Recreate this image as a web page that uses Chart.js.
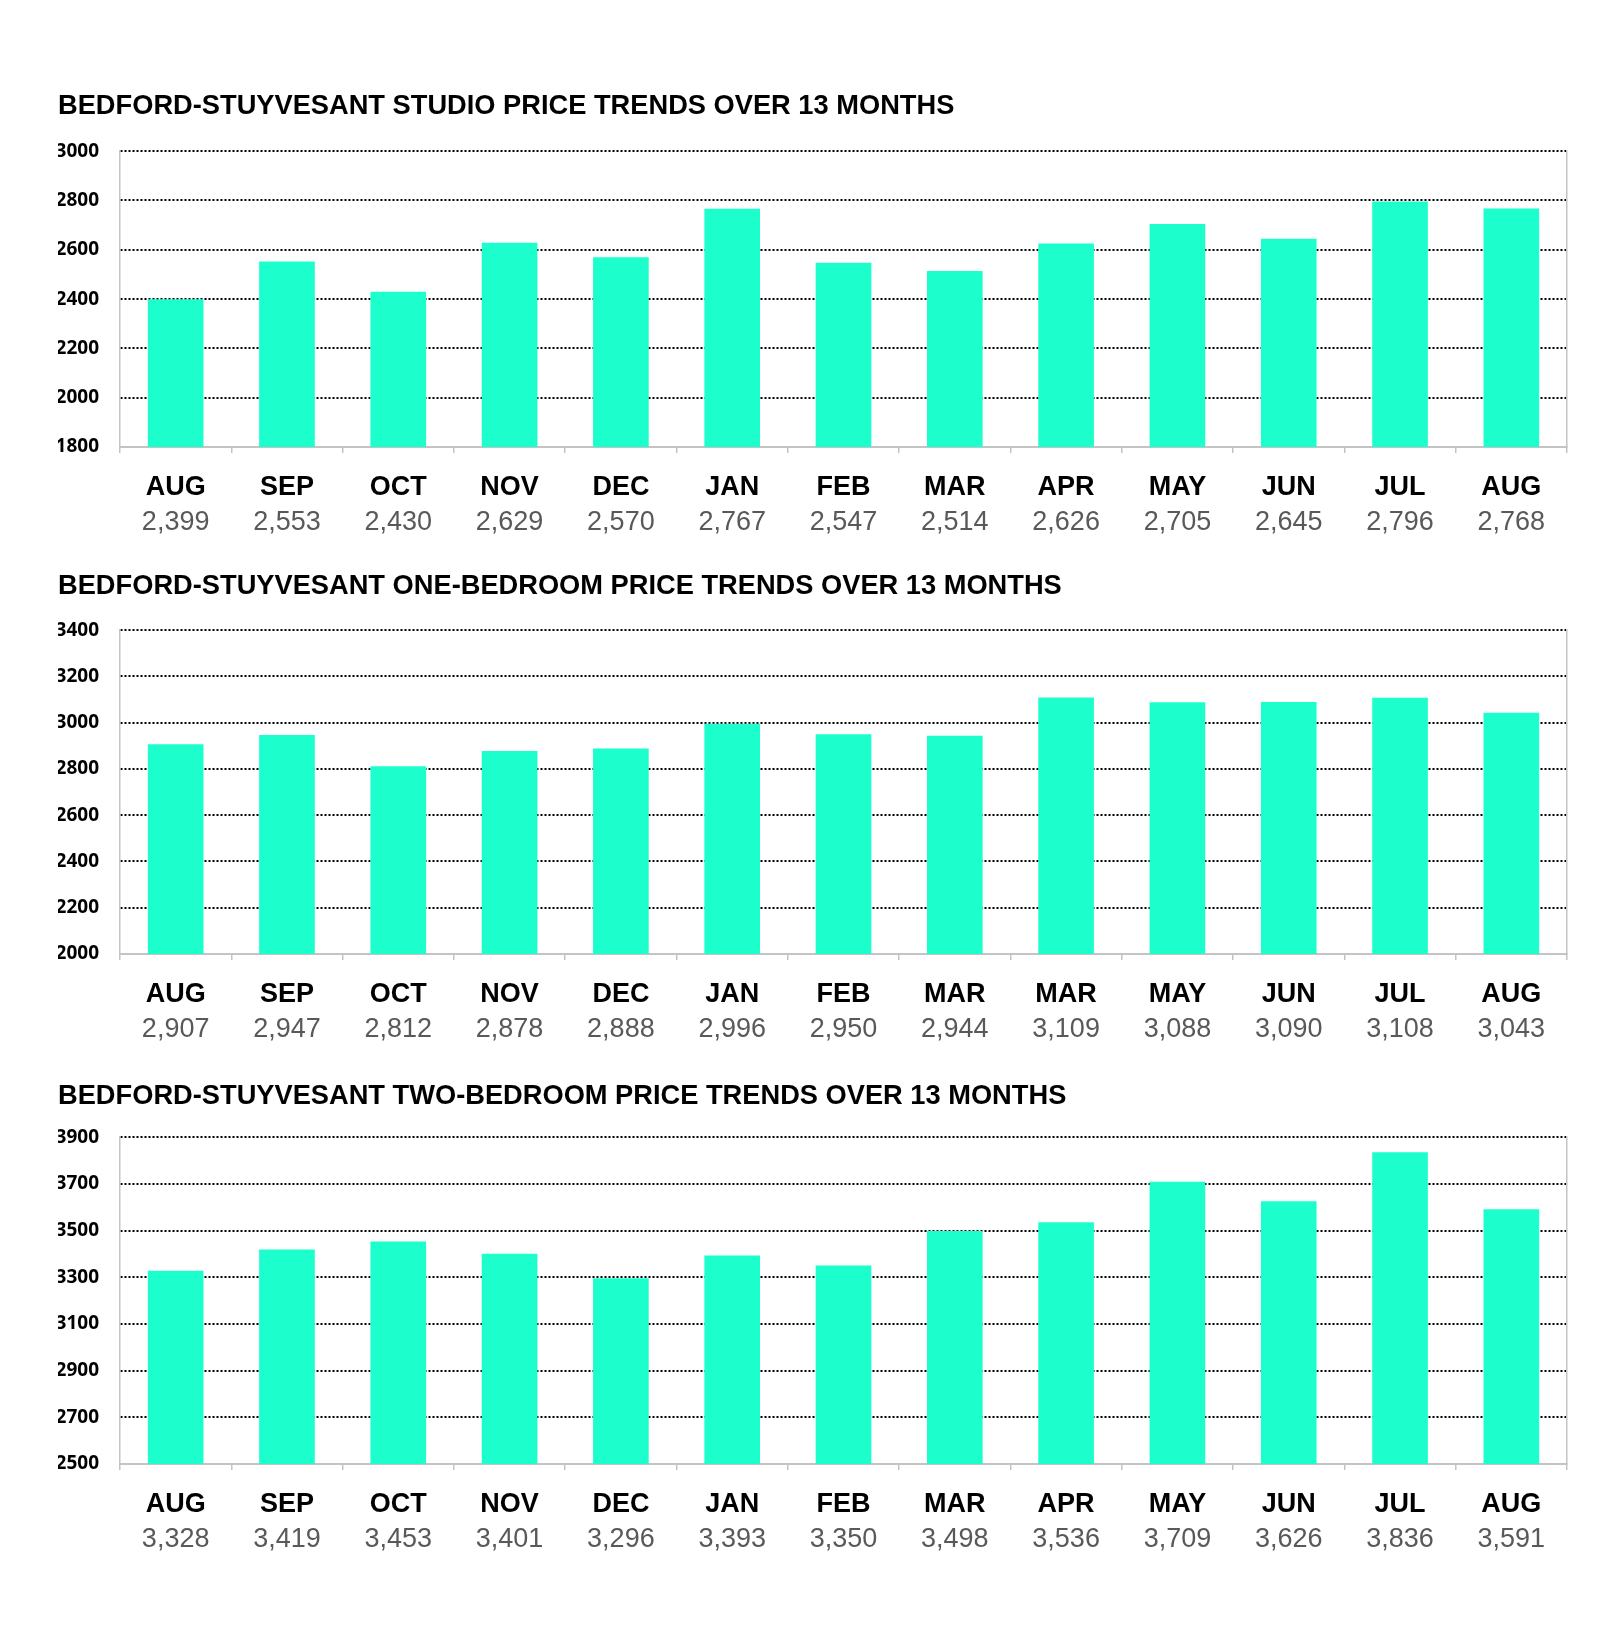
<!DOCTYPE html>
<html>
<head>
<meta charset="utf-8">
<script src="https://cdn.jsdelivr.net/npm/chart.js@4"></script>
<style>
  body { margin: 0; background: #fff; width: 1600px; height: 1630px; position: relative; }
  canvas { position: absolute; left: 0; }
</style>
</head>
<body>
<canvas id="studio" width="1600" height="461" style="top:80px"></canvas>
<canvas id="oneBed" width="1600" height="488" style="top:560px"></canvas>
<canvas id="twoBed" width="1600" height="488" style="top:1070px"></canvas>
<script>
const studioMonths = ["AUG","SEP","OCT","NOV","DEC","JAN","FEB","MAR","APR","MAY","JUN","JUL","AUG"];
const studioPrices = [2399, 2553, 2430, 2629, 2570, 2767, 2547, 2514, 2626, 2705, 2645, 2796, 2768];

const oneBedMonths = ["AUG","SEP","OCT","NOV","DEC","JAN","FEB","MAR","MAR","MAY","JUN","JUL","AUG"];
const oneBedPrices = [2907, 2947, 2812, 2878, 2888, 2996, 2950, 2944, 3109, 3088, 3090, 3108, 3043];

const twoBedMonths = ["AUG","SEP","OCT","NOV","DEC","JAN","FEB","MAR","APR","MAY","JUN","JUL","AUG"];
const twoBedPrices = [3328, 3419, 3453, 3401, 3296, 3393, 3350, 3498, 3536, 3709, 3626, 3836, 3591];

const barColor = '#1cffcc';
const axisGray = '#c4c4c4';

function makeChart(id, title, months, prices, yMin, yMax, titleGap) {
    const valueLabels = prices.map(v => v.toLocaleString('en-US'));
    return new Chart(document.getElementById(id), {
        type: 'bar',
        data: {
            labels: months,
            datasets: [{
                data: prices,
                backgroundColor: barColor,
                barPercentage: 0.5,
                categoryPercentage: 1,
                xAxisID: 'x',
                yAxisID: 'y'
            }]
        },
        options: {
            responsive: false,
            animation: false,
            devicePixelRatio: 1,
            layout: { padding: { left: 58, right: 33, top: 0, bottom: 0 } },
            plugins: {
                legend: { display: false },
                tooltip: { enabled: false },
                title: {
                    display: true,
                    text: title,
                    align: 'start',
                    color: '#000',
                    font: { family: 'Liberation Sans', size: 27.25, weight: 'bold' },
                    padding: { top: 10, bottom: titleGap }
                }
            },
            scales: {
                x: {
                    position: 'bottom',
                    afterFit: s => { s.height = 56; },
                    grid: {
                        offset: true,
                        drawOnChartArea: false,
                        drawTicks: true,
                        tickLength: 6,
                        color: axisGray,
                        lineWidth: 1.5
                    },
                    border: { color: axisGray, width: 2 },
                    ticks: {
                        color: '#000',
                        padding: 18,
                        autoSkip: false,
                        maxRotation: 0,
                        font: { family: 'Liberation Sans', size: 27, weight: 'bold' }
                    }
                },
                // second row of labels under the months: the prices
                x2: {
                    type: 'category',
                    position: 'bottom',
                    labels: valueLabels,
                    afterFit: s => { s.height = 38; },
                    grid: { display: false, drawTicks: false },
                    border: { display: false },
                    ticks: {
                        color: '#595959',
                        padding: 3,
                        autoSkip: false,
                        maxRotation: 0,
                        font: { family: 'Liberation Sans', size: 27 }
                    }
                },
                y: {
                    position: 'left',
                    min: yMin,
                    max: yMax,
                    afterFit: s => { s.width = 62; },
                    grid: {
                        drawTicks: false,
                        color: c => c.index === 0 ? 'rgba(0,0,0,0)' : '#000',
                        lineWidth: 2
                    },
                    border: { color: axisGray, width: 1.5, dash: [2, 2] },
                    ticks: {
                        stepSize: 200,
                        padding: 21,
                        color: '#000',
                        font: { family: 'Open Sans', size: 19, weight: 'bold' },
                        callback: v => String(v)
                    }
                },
                y2: {
                    position: 'right',
                    min: yMin,
                    max: yMax,
                    afterFit: s => { s.width = 0; },
                    grid: { drawOnChartArea: false, drawTicks: false },
                    border: { color: axisGray, width: 1.5 },
                    ticks: { display: false }
                }
            }
        }
    });
}

makeChart('studio', 'BEDFORD-STUYVESANT STUDIO PRICE TRENDS OVER 13 MONTHS', studioMonths, studioPrices, 1800, 3000, 28.5);
makeChart('oneBed', 'BEDFORD-STUYVESANT ONE-BEDROOM PRICE TRENDS OVER 13 MONTHS', oneBedMonths, oneBedPrices, 2000, 3400, 27.5);
makeChart('twoBed', 'BEDFORD-STUYVESANT TWO-BEDROOM PRICE TRENDS OVER 13 MONTHS', twoBedMonths, twoBedPrices, 2500, 3900, 24.5);
</script>
</body>
</html>
